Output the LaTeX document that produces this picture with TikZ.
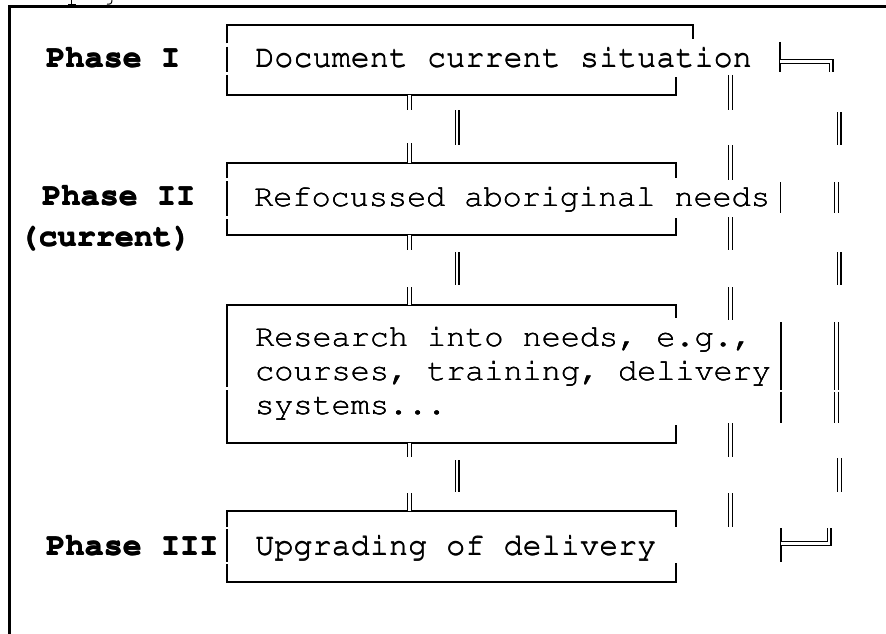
\documentclass[tikz,border=0pt]{standalone}
\usepackage[T1]{fontenc}
\usepackage{courier}
\usepackage{graphicx}
\newcommand\thk[2]{\rlap{#2}\rlap{\hspace{#1}#2}\rlap{\raisebox{#1}{#2}}\phantom{#2}}
\newcommand\wx[1]{\scalebox{1.037}[1]{\thk{0.35pt}{#1}}}
\newcommand\wb[1]{\scalebox{1.037}[1]{\thk{0.6pt}{#1}}}
\tikzset{
  boxln/.style={line width=1.1pt, draw=black},
  sgl/.style={line width=1.1pt, draw=black},
  dbl/.style={draw=black, line width=1.1pt, double=white, double distance=2.8pt},
  frameln/.style={line width=3pt, draw=black},
  txt/.style={anchor=base west, inner sep=0pt, font=\fontsize{30.7}{34}\selectfont\ttfamily},
  lbl/.style={anchor=base west, inner sep=0pt, font=\fontsize{30.7}{34}\selectfont\ttfamily\bfseries},
}
\begin{document}
\begin{tikzpicture}[x=1pt,y=-1pt]
\useasboundingbox (0,0) rectangle (886,634);
% outer frame
\draw[frameln] (9.8,634) -- (9.8,6.8) -- (886,6.8);
% glyph fragments above the frame
\draw[line width=1pt] (71.7,0) -- (71.7,4.5) (68,4.5) -- (76,4.5);
\draw[line width=1pt] (112,0) .. controls (112,4) and (110,4.5) .. (107,4);
% box 1
\draw[boxln] (227,43.3) -- (227,25) -- (693,25) -- (693,39);
\draw[boxln] (227,46.7) -- (227,71.7);
\draw[boxln] (227,75) -- (227,95) -- (676,95) -- (676,77);
% box 2
\draw[boxln] (227,178) -- (227,163) -- (676,163) -- (676,178);
\draw[boxln] (227,181) -- (227,216);
\draw[boxln] (227,219) -- (227,235) -- (676,235) -- (676,218);
% box 3
\draw[boxln] (227,387) -- (227,305) -- (676,305) -- (676,318);
\draw[boxln] (227,390) -- (227,443) -- (676,443) -- (676,425);
% box 4
\draw[boxln] (227,527) -- (227,511) -- (676,511) -- (676,527);
\draw[boxln] (227,529) -- (227,562);
\draw[boxln] (227,564) -- (227,582) -- (676,582) -- (676,563);
% single bars
\draw[sgl] (780,42) -- (780,72);
\draw[sgl] (780.7,182) -- (780.7,213);
\draw[sgl] (781,322) -- (781,390);
\draw[sgl] (781,391.5) -- (781,423);
\draw[sgl] (781,528) -- (781,562);
% corner structures
\draw[dbl] (780,61.7) -- (831,61.7) -- (831,72);
\draw[dbl] (781,543.3) -- (829,543.3) -- (829,528);
% left double connectors
\foreach \a/\b in {95/110,143/163,235/250,287/305,443/457,493/511}
  \draw[dbl] (409.7,\a) -- (409.7,\b);
% middle double
\foreach \a/\b in {110/145,252/285,460/492}
  \draw[dbl] (457,\a) -- (457,\b);
% column at 730
\foreach \a/\b in {75/110,145/180,217/250,287/320,423/457,493/527}
  \draw[dbl] (730.3,\a) -- (730.3,\b);
% right column
\draw[dbl] (839,112) -- (839,145);
\draw[dbl] (836.5,182) -- (836.5,213);
\draw[dbl] (839,252) -- (839,285);
\draw[dbl] (836.5,322) -- (836.5,390);
\draw[dbl] (836.5,391.5) -- (836.5,423);
\draw[dbl] (839.5,458) -- (839.5,492);
% texts
\node[txt] (t1) at (255,67) {\wx{Document current situation}};
\node[lbl] (p1) at (46,67) {\wb{Phase I}};
\node[txt] (t2) at (254,206.5) {\wx{Refocussed aboriginal needs}};
\node[lbl] (p2) at (42,205.5) {\wb{Phase II}};
\node[lbl] (p2c) at (19,246) {\wb{(current)}};
\node[txt] (r1) at (255,346.5) {\wx{Research into needs, e.g.,}};
\node[txt] (r2) at (255,380.5) {\wx{courses, training, delivery}};
\node[txt] (r3) at (255,414.5) {\wx{systems...}};
\node[txt] (t4) at (255,555) {\wx{Upgrading of delivery}};
\node[lbl] (p4) at (46,555) {\wb{Phase III}};
\end{tikzpicture}
\end{document}
